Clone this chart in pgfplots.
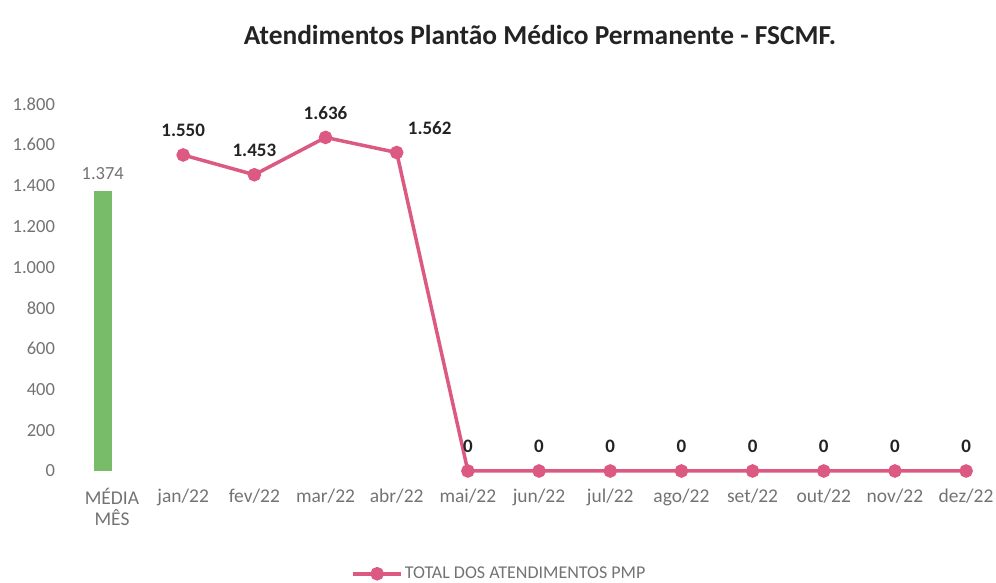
\documentclass[border=0pt]{standalone}
\usepackage{pgfplots}
\pgfplotsset{compat=1.18}
\usepackage{fontspec}
\setmainfont{Carlito}
\definecolor{linepink}{RGB}{220,90,130}
\definecolor{bargreen}{RGB}{120,188,105}
\definecolor{ticktext}{RGB}{115,115,115}
\definecolor{labtext}{RGB}{35,35,35}
\begin{document}
\begin{tikzpicture}[x=1bp,y=1bp]
\useasboundingbox (0,0) rectangle (996,583);
\node[font=\fontsize{27.4bp}{31bp}\selectfont\bfseries, text=labtext] at (540,548) {Atendimentos Plantão Médico Permanente - FSCMF.};
\begin{axis}[
  at={(76.4bp,112bp)}, anchor=south west,
  scale only axis, width=919.6bp, height=367bp,
  xmin=-0.5, xmax=12.42, ymin=0, ymax=1800,
  axis line style={draw=none},
  tick style={draw=none},
  ytick={0,200,...,1800},
  xtick={0,...,12},
  xticklabels={{MÉDIA\\MÊS},jan/22,fev/22,mar/22,abr/22,mai/22,jun/22,jul/22,ago/22,set/22,out/22,nov/22,dez/22},
  xticklabel style={align=center, text=ticktext, font=\fontsize{19.5bp}{21bp}\selectfont, yshift=-14bp},
  yticklabel style={text=ticktext, font=\fontsize{18.5bp}{21bp}\selectfont, xshift=-18bp},
  /pgf/number format/assume math mode=true,
  /pgf/number format/1000 sep={.},
  clip=false,
  legend style={at={(0.46,-0.28)}, anchor=center, draw=none, fill=none,
     font=\fontsize{18bp}{20bp}\selectfont, text=ticktext},
  legend cell align=left,
  legend image code/.code={
    \draw[linepink, line width=3.5bp] (0bp,0bp) -- (48bp,0bp);
    \fill[linepink] (24bp,0bp) circle (5bp);
  },
]
\addplot[ybar, bar width=18bp, fill=bargreen, draw=none, bar shift=0pt,
  nodes near coords, nodes near coords style={text=ticktext, yshift=8bp, font=\fontsize{18.5bp}{21bp}\selectfont, /pgf/number format/1000 sep={.}, /pgf/number format/assume math mode=true},
  forget plot]
  coordinates {(-0.13,1374)};
\addplot[linepink, line width=3.5bp, mark=*, mark size=5bp, mark options={fill=linepink, draw=linepink},
  nodes near coords,
  nodes near coords style={text=labtext, font=\fontsize{19bp}{21bp}\selectfont\bfseries, yshift=13bp, /pgf/number format/1000 sep={.}, /pgf/number format/assume math mode=true},
  coordinate style/.condition={x==4}{xshift=33bp}]
  coordinates {(1,1550) (2,1453) (3,1636) (4,1562) (5,0) (6,0) (7,0) (8,0) (9,0) (10,0) (11,0) (12,0)};
\addlegendentry{TOTAL DOS ATENDIMENTOS PMP}
\end{axis}
\end{tikzpicture}
\end{document}
